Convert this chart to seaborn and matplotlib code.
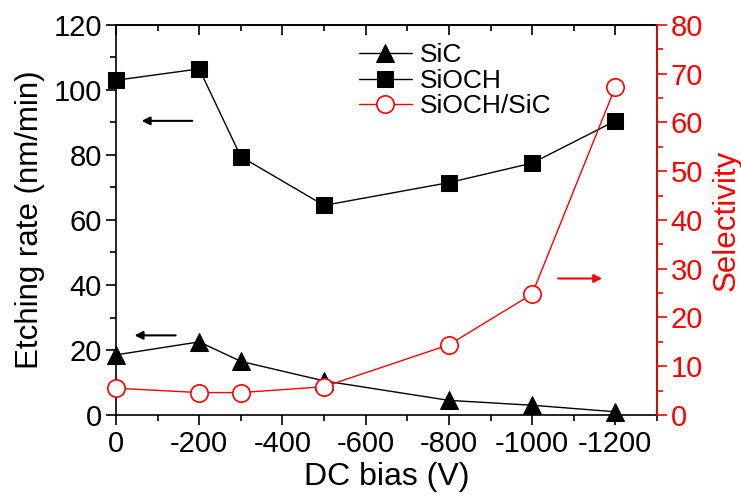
import matplotlib
matplotlib.use("Agg")
import matplotlib.pyplot as plt
import seaborn as sns
import pandas as pd
from matplotlib.ticker import MultipleLocator

sns.set_theme(style="white")
plt.rcParams['font.family'] = ['Liberation Sans', 'DejaVu Sans']
plt.rcParams['axes.unicode_minus'] = False
plt.rcParams['text.color'] = 'black'
plt.rcParams['axes.labelcolor'] = 'black'
plt.rcParams['xtick.color'] = 'black'
plt.rcParams['ytick.color'] = 'black'
plt.rcParams['axes.edgecolor'] = 'black'

dc_bias = [0, -200, -300, -500, -800, -1000, -1200]
sic_rate = [18.5, 22.5, 16.5, 10.5, 4.5, 3.0, 1.0]
sioch_rate = [103, 106.5, 79.5, 64.5, 71.5, 77.5, 90.5]
selectivity = [5.5, 4.6, 4.6, 5.8, 14.4, 24.8, 67.3]

df = pd.DataFrame({"bias": dc_bias, "SiC": sic_rate, "SiOCH": sioch_rate,
                   "SiOCH/SiC": selectivity})

fig = plt.figure(figsize=(7.41, 5.0), dpi=100)
ax = fig.add_axes([0.1565, 0.17, 0.7301, 0.78])
ax2 = ax.twinx()

sns.lineplot(data=df, x="bias", y="SiC", ax=ax, color="black", marker="^",
             markersize=13, markeredgecolor="black", linewidth=1, label="SiC",
             legend=False, clip_on=False, zorder=3)
sns.lineplot(data=df, x="bias", y="SiOCH", ax=ax, color="black", marker="s",
             markersize=12, markeredgecolor="black", linewidth=1, label="SiOCH",
             legend=False, clip_on=False, zorder=3)
sns.lineplot(data=df, x="bias", y="SiOCH/SiC", ax=ax2, color="red", marker="o",
             markersize=12.5, markerfacecolor="white", markeredgecolor="red",
             markeredgewidth=1.2, linewidth=1, label="SiOCH/SiC", legend=False,
             clip_on=False, zorder=3)

ax.set_xlim(0, -1300)
ax.set_ylim(0, 120)
ax2.set_ylim(0, 80)

ax.xaxis.set_major_locator(MultipleLocator(200))
ax.xaxis.set_minor_locator(MultipleLocator(100))
ax.yaxis.set_major_locator(MultipleLocator(20))
ax.yaxis.set_minor_locator(MultipleLocator(10))
ax2.yaxis.set_major_locator(MultipleLocator(10))
ax2.yaxis.set_minor_locator(MultipleLocator(5))

fs = 21
ax.tick_params(axis='x', which='both', direction='out', bottom=True, top=False,
               labelsize=fs, width=1.2, pad=4, colors='black')
ax.tick_params(axis='x', which='major', length=7)
ax.tick_params(axis='x', which='minor', length=4)
ax.tick_params(axis='y', which='both', direction='out', left=True, labelsize=fs,
               width=1.2, pad=3, colors='black')
ax.tick_params(axis='y', which='major', length=7)
ax.tick_params(axis='y', which='minor', length=4)
ax2.tick_params(axis='y', which='both', direction='out', right=True, labelsize=fs,
                colors='red', width=1.2, pad=3)
ax2.tick_params(axis='y', which='major', length=7)
ax2.tick_params(axis='y', which='minor', length=4)

# top ticks pointing inward, no labels
sec = ax.secondary_xaxis('top')
sec.xaxis.set_major_locator(MultipleLocator(200))
sec.xaxis.set_minor_locator(MultipleLocator(100))
sec.tick_params(axis='x', which='both', direction='in', labeltop=False, width=1.2,
                colors='black')
sec.tick_params(axis='x', which='major', length=7)
sec.tick_params(axis='x', which='minor', length=4)
sec.spines['top'].set_linewidth(1.2)
sec.spines['top'].set_color('black')

for sp in ax.spines.values():
    sp.set_linewidth(1.2)
    sp.set_color('black')
for name, sp in ax2.spines.items():
    sp.set_linewidth(1.2)
ax2.spines['right'].set_color('red')
ax2.spines['left'].set_visible(False)
ax2.spines['top'].set_visible(False)
ax2.spines['bottom'].set_visible(False)

ax.set_xlabel("DC bias (V)", fontsize=23, labelpad=3, color='black')
ax.set_ylabel("Etching rate (nm/min)", fontsize=22.5, labelpad=6, color='black')
ax2.set_ylabel("Selectivity", fontsize=22.5, color='red', labelpad=6)

# arrows
ax.annotate("", xy=(-55, 90.5), xytext=(-190, 90.5),
            arrowprops=dict(arrowstyle="-|>", color="black", lw=1.5, mutation_scale=12))
ax.annotate("", xy=(-38, 24.5), xytext=(-150, 24.5),
            arrowprops=dict(arrowstyle="-|>", color="black", lw=1.5, mutation_scale=12))
ax2.annotate("", xy=(-1175, 28), xytext=(-1056, 28),
             arrowprops=dict(arrowstyle="-|>", color="red", lw=1.5, mutation_scale=12))

h1, lab1 = ax.get_legend_handles_labels()
h2, lab2 = ax2.get_legend_handles_labels()
leg = ax.legend(h1 + h2, lab1 + lab2, loc='upper left', bbox_to_anchor=(0.415, 1.0),
                frameon=False, fontsize=19, handlelength=2.0, labelspacing=0.05,
                handletextpad=0.3, borderpad=0.2)
for t in leg.get_texts():
    t.set_color('black')

fig.savefig("out.png", dpi=100)
